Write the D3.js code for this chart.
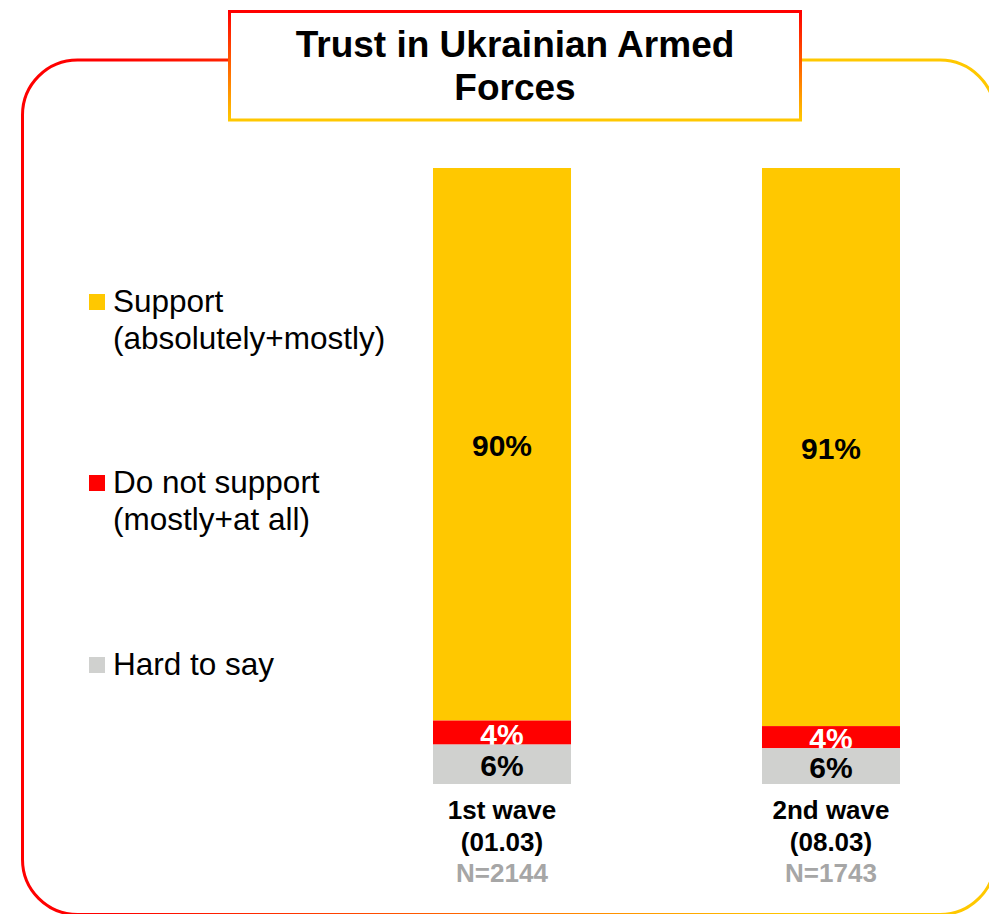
<!DOCTYPE html>
<html>
<head>
<meta charset="utf-8">
<script src="https://cdn.jsdelivr.net/npm/d3@7"></script>
<style>
  html, body { margin: 0; padding: 0; background: #fff; }
  svg { display: block; font-family: "Liberation Sans", Arial, Helvetica, sans-serif; }
</style>
</head>
<body>
<svg id="chart" width="989" height="914"></svg>
<script>
// ---- data ----
const titleLines = ["Trust in Ukrainian Armed", "Forces"];
const categories = ["1st wave", "2nd wave"];
const categoryDates = ["(01.03)", "(08.03)"];
const sampleSizes = ["N=2144", "N=1743"];
const seriesNames = ["Support (absolutely+mostly)", "Do not support (mostly+at all)", "Hard to say"];
const legendLines = [["Support", "(absolutely+mostly)"], ["Do not support", "(mostly+at all)"], ["Hard to say"]];
const supportValues = [89.7, 90.6];
const notSupportValues = [3.9, 3.6];
const hardToSayValues = [6.4, 5.8];
const seriesColors = ["#FFC800", "#FF0000", "#D0D1CF"];
const labelColors = ["#000000", "#FFFFFF", "#000000"];

const svg = d3.select("#chart");
const defs = svg.append("defs");

// outer frame gradient (horizontal red -> yellow)
const g1 = defs.append("linearGradient").attr("id", "frameGrad")
  .attr("gradientUnits", "userSpaceOnUse").attr("x1", 110).attr("y1", 0).attr("x2", 800).attr("y2", 0);
g1.append("stop").attr("offset", "0%").attr("stop-color", "#FF0000");
g1.append("stop").attr("offset", "100%").attr("stop-color", "#FFC800");

// title box gradient (vertical red -> yellow)
const g2 = defs.append("linearGradient").attr("id", "titleGrad")
  .attr("x1", 0).attr("y1", 0).attr("x2", 0).attr("y2", 1);
g2.append("stop").attr("offset", "0%").attr("stop-color", "#FF0000");
g2.append("stop").attr("offset", "100%").attr("stop-color", "#FFC800");

// outer rounded frame
svg.append("rect")
  .attr("x", 22.5).attr("y", 60).attr("width", 972.5).attr("height", 854.5)
  .attr("rx", 55).attr("ry", 55)
  .attr("fill", "#fff").attr("stroke", "url(#frameGrad)").attr("stroke-width", 3);

// title box
svg.append("rect")
  .attr("x", 229.5).attr("y", 11.5).attr("width", 571).attr("height", 108.5)
  .attr("fill", "#fff").attr("stroke", "url(#titleGrad)").attr("stroke-width", 3);

svg.append("text")
  .attr("x", 515).attr("text-anchor", "middle")
  .attr("font-size", 37).attr("font-weight", "bold").attr("fill", "#000")
  .selectAll("tspan").data(titleLines).join("tspan")
  .attr("x", 515).attr("y", (d, i) => 57 + i * 43).text(d => d);

// scales
const x = d3.scaleBand().domain(categories).range([433, 900]).paddingInner(0.5805).paddingOuter(0);
const y = d3.scaleLinear().domain([0, 100]).range([784, 168]);

// stacked data
const rows = categories.map((c, i) => ({
  cat: c,
  support: supportValues[i],
  notSupport: notSupportValues[i],
  hard: hardToSayValues[i]
}));
const keys = ["support", "notSupport", "hard"];
// stack order: hard at bottom, then notSupport, then support on top
const stack = d3.stack().keys(["hard", "notSupport", "support"]);
const stacked = stack(rows);
const byKey = {};
stacked.forEach(s => byKey[s.key] = s);

const fmt = v => d3.format(".0f")(v) + "%";

// draw top-to-bottom so lower segments overlap labels above
keys.forEach((k, ki) => {
  const layer = byKey[k];
  const g = svg.append("g");
  g.selectAll("rect").data(layer).join("rect")
    .attr("x", d => x(d.data.cat))
    .attr("width", x.bandwidth())
    .attr("y", d => y(d[1]))
    .attr("height", d => y(d[0]) - y(d[1]))
    .attr("fill", seriesColors[ki]);
  g.selectAll("text").data(layer).join("text")
    .attr("x", d => x(d.data.cat) + x.bandwidth() / 2)
    .attr("y", d => (y(d[0]) + y(d[1])) / 2)
    .attr("dy", "0.4em")
    .attr("text-anchor", "middle")
    .attr("font-size", 30).attr("font-weight", "bold")
    .attr("fill", labelColors[ki])
    .text(d => fmt(d[1] - d[0]));
});

// category labels
const catG = svg.append("g");
categories.forEach((c, i) => {
  const cx = x(c) + x.bandwidth() / 2;
  const t = catG.append("text").attr("text-anchor", "middle")
    .attr("font-size", 26).attr("font-weight", "bold");
  t.append("tspan").attr("x", cx).attr("y", 819).attr("fill", "#000").text(c);
  t.append("tspan").attr("x", cx).attr("y", 850.5).attr("fill", "#000").text(categoryDates[i]);
  t.append("tspan").attr("x", cx).attr("y", 882).attr("fill", "#A6A6A6").text(sampleSizes[i]);
});

// legend
const legendBaselines = [312, 493, 675];
const lg = svg.append("g");
legendLines.forEach((lines, i) => {
  lg.append("rect")
    .attr("x", 89).attr("y", legendBaselines[i] - 18)
    .attr("width", 16).attr("height", 16)
    .attr("fill", seriesColors[i]);
  lg.append("text")
    .attr("font-size", 31.5).attr("fill", "#000")
    .selectAll("tspan").data(lines).join("tspan")
    .attr("x", 113).attr("y", (d, j) => legendBaselines[i] + j * 37)
    .text(d => d);
});
</script>
</body>
</html>
